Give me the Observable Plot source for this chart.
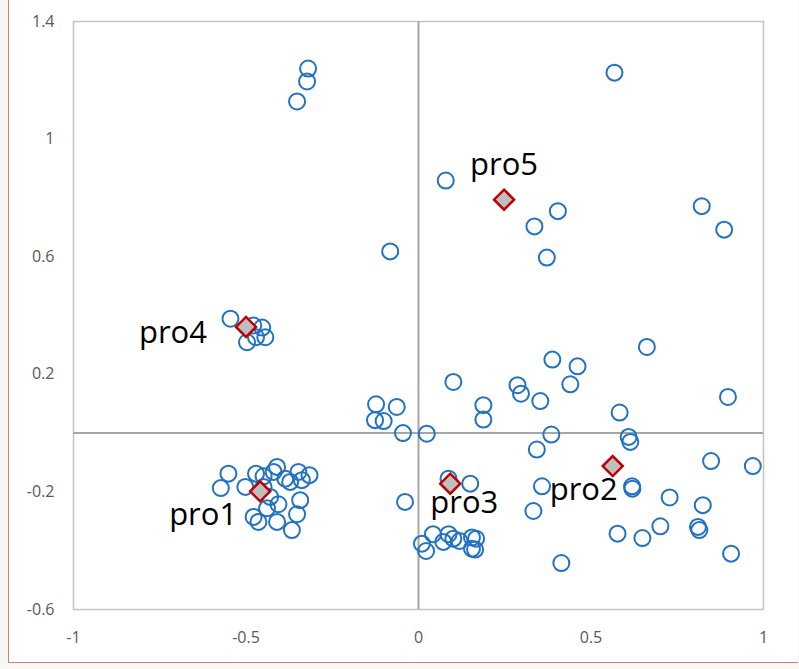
<!DOCTYPE html>
<html>
<head>
<meta charset="utf-8">
<script src="https://cdn.jsdelivr.net/npm/d3@7"></script>
<script src="https://cdn.jsdelivr.net/npm/@observablehq/plot@0.6"></script>
<style>
  html, body { margin: 0; padding: 0; background: #f7f7f3; }
  #wrap { position: relative; width: 799px; height: 669px; overflow: hidden; }
  #panel { position: absolute; left: 8px; top: -2px; width: 789px; height: 664px;
           background: #ffffff; border-left: 1px solid #e07a7a; border-bottom: 1px solid #e07a7a; }
  #chart { position: absolute; left: 0; top: 0; }
  #chart svg { background: transparent; }
</style>
</head>
<body>
<div id="wrap"><div id="panel"></div><div id="chart"></div></div>
<script>
// ---- data ----
const pointX = [
  -0.320, -0.323, -0.352, 0.568,
  0.079, 0.404, 0.336, 0.372, 0.821, 0.886, -0.082,
  -0.545, -0.479, -0.453, -0.444, -0.497, -0.471,
  -0.123, -0.063, -0.126, -0.101, -0.045, 0.024, 0.188, 0.188, 0.101,
  0.662, 0.388, 0.461, 0.440, 0.287, 0.297, 0.353, 0.897, 0.583, 0.385,
  0.609, 0.614, 0.343, 0.848, 0.969, 0.358, 0.619, 0.620, 0.728, 0.824,
  0.333, 0.577, 0.649, 0.701, 0.810, 0.814, 0.906, 0.414,
  0.087, 0.150, -0.039, 0.010, 0.022, 0.042, 0.072, 0.087, 0.101, 0.119,
  0.155, 0.167, 0.164, 0.155,
  -0.551, -0.573, -0.502, -0.471, -0.449, -0.410, -0.420, -0.386, -0.348,
  -0.316, -0.338, -0.372, -0.343, -0.406, -0.430, -0.352, -0.478, -0.464,
  -0.410, -0.367, -0.439, -0.449
];
const pointY = [
  1.240, 1.196, 1.128, 1.226,
  0.859, 0.755, 0.703, 0.597, 0.772, 0.692, 0.618,
  0.389, 0.366, 0.359, 0.326, 0.309, 0.326,
  0.098, 0.089, 0.044, 0.041, 0.000, -0.002, 0.095, 0.046, 0.174,
  0.293, 0.250, 0.227, 0.166, 0.163, 0.134, 0.109, 0.123, 0.070, -0.005,
  -0.013, -0.030, -0.056, -0.095, -0.112, -0.181, -0.181, -0.189, -0.219, -0.245,
  -0.265, -0.342, -0.357, -0.317, -0.319, -0.330, -0.410, -0.442,
  -0.155, -0.172, -0.234, -0.376, -0.401, -0.344, -0.370, -0.344, -0.359, -0.367,
  -0.355, -0.359, -0.396, -0.393,
  -0.138, -0.187, -0.183, -0.138, -0.147, -0.115, -0.132, -0.155, -0.132,
  -0.143, -0.160, -0.166, -0.228, -0.242, -0.217, -0.276, -0.285, -0.302,
  -0.302, -0.330, -0.256, -0.183
];
const proNames = ["pro1", "pro2", "pro3", "pro4", "pro5"];
const proX = [-0.459, 0.563, 0.092, -0.500, 0.248];
const proY = [-0.198, -0.112, -0.172, 0.361, 0.794];
const xTicks = [-1, -0.5, 0, 0.5, 1];
const yTicks = [-0.6, -0.2, 0.2, 0.6, 1, 1.4];

// ---- tables ----
const points = pointX.map((x, i) => ({x, y: pointY[i]}));
const pros = proNames.map((name, i) => ({name, x: proX[i], y: proY[i]}));

// label placement (layout only)
const labelPlace = {
  pro1: {dx: -23, dy: 24, anchor: "end"},
  pro2: {dx: 5, dy: 24, anchor: "end"},
  pro3: {dx: -20, dy: 19, anchor: "start"},
  pro4: {dx: -39, dy: 6, anchor: "end"},
  pro5: {dx: 0, dy: -35, anchor: "middle"}
};

const fmt = d => String(d);
const xMin = -1, yMin = -0.6;

const plot = Plot.plot({
  width: 799,
  height: 669,
  marginLeft: 73,
  marginRight: 36,
  marginTop: 21,
  marginBottom: 60,
  style: {background: "transparent", fontFamily: "Open Sans"},
  x: {domain: [-1, 1], nice: false, axis: null},
  y: {domain: [-0.6, 1.4], nice: false, axis: null},
  marks: [
    Plot.frame({stroke: "#c4c4c4", strokeWidth: 1.5}),
    Plot.ruleX([0], {stroke: "#a6a6a6", strokeWidth: 2}),
    Plot.ruleY([0], {stroke: "#a6a6a6", strokeWidth: 2}),
    // tick labels
    Plot.text(xTicks, {x: d => d, y: () => yMin, text: fmt, dy: 28,
      fontSize: 16, fill: "#595959"}),
    Plot.text(yTicks, {x: () => xMin, y: d => d, text: fmt, dx: -19, textAnchor: "end",
      fontSize: 16, fill: "#595959"}),
    Plot.dot(points, {x: "x", y: "y", r: 8, stroke: "#2272c3", strokeWidth: 2, fill: "none"}),
    Plot.dot(pros, {x: "x", y: "y", symbol: "diamond2", r: 9, fill: "#bfbfbf",
      stroke: "#c00000", strokeWidth: 2.5}),
    ...proNames.map(n => Plot.text(pros.filter(d => d.name === n), {
      x: "x", y: "y", text: "name",
      dx: labelPlace[n].dx, dy: labelPlace[n].dy, textAnchor: labelPlace[n].anchor,
      fontSize: 31, fill: "#000000"
    }))
  ]
});
document.getElementById("chart").appendChild(plot);
</script>
</body>
</html>
